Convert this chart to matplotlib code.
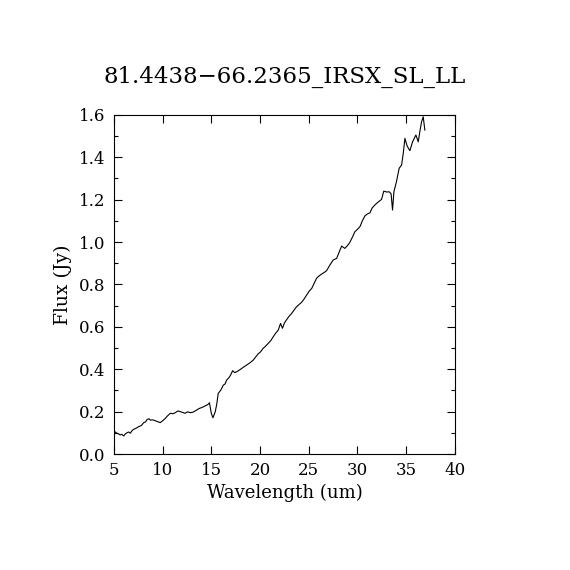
"""Recreate the IRS spectrum plot of 81.4438-66.2365 (SL+LL)."""

import matplotlib

matplotlib.use("Agg")
import matplotlib.pyplot as plt  # noqa: E402
from matplotlib.ticker import MultipleLocator  # noqa: E402

TITLE = "81.4438\u221266.2365_IRSX_SL_LL"

# wavelength (um) and flux (Jy)
wave = [5.0, 5.15, 5.3, 5.5, 5.65, 5.8, 6.0, 6.15, 6.33, 6.5, 6.67, 6.85,
        7.0, 7.25, 7.53, 7.8, 8.05, 8.25, 8.4, 8.6, 8.73, 9.0, 9.24, 9.5,
        9.75, 10.0, 10.27, 10.5, 10.78, 11.05, 11.3, 11.55, 11.8, 12.05,
        12.3, 12.55, 12.83, 13.1, 13.35, 13.55, 13.76, 14.0, 14.2, 14.4,
        14.55, 14.7, 14.8, 14.99, 15.16, 15.4, 15.55, 15.7, 15.95, 16.22,
        16.4, 16.57, 16.8, 16.98, 17.18, 17.4, 17.6, 17.8, 18.0, 18.3,
        18.62, 18.95, 19.3, 19.55, 19.8, 20.05, 20.3, 20.55, 20.84, 21.1,
        21.35, 21.6, 21.87, 22.1, 22.3, 22.5, 22.7, 22.95, 23.24, 23.5,
        23.75, 24.0, 24.27, 24.5, 24.78, 25.05, 25.3, 25.55, 25.8, 26.05,
        26.32, 26.6, 26.83, 27.15, 27.5, 27.86, 28.1, 28.37, 28.7, 28.95,
        29.2, 29.5, 29.74, 30.0, 30.25, 30.5, 30.76, 31.0, 31.28, 31.5,
        31.79, 32.05, 32.3, 32.47, 32.7, 33.0, 33.26, 33.45, 33.6, 33.74,
        34.0, 34.28, 34.53, 34.7, 34.87, 35.1, 35.38, 35.66, 36.0, 36.24,
        36.4, 36.58, 36.75, 36.92]
flux = [0.100, 0.104, 0.098, 0.094, 0.090, 0.093, 0.085, 0.094, 0.100,
        0.104, 0.098, 0.110, 0.116, 0.121, 0.129, 0.134, 0.148, 0.152,
        0.163, 0.166, 0.160, 0.161, 0.157, 0.153, 0.148, 0.157, 0.168,
        0.180, 0.192, 0.190, 0.195, 0.203, 0.200, 0.196, 0.192, 0.199,
        0.195, 0.197, 0.204, 0.210, 0.215, 0.219, 0.223, 0.228, 0.231,
        0.236, 0.242, 0.192, 0.171, 0.200, 0.235, 0.286, 0.300, 0.325,
        0.330, 0.349, 0.360, 0.373, 0.393, 0.384, 0.388, 0.394, 0.400,
        0.410, 0.420, 0.430, 0.443, 0.458, 0.472, 0.482, 0.498, 0.508,
        0.522, 0.535, 0.553, 0.570, 0.585, 0.616, 0.593, 0.618, 0.632,
        0.648, 0.663, 0.680, 0.695, 0.705, 0.716, 0.730, 0.750, 0.769,
        0.781, 0.805, 0.829, 0.840, 0.849, 0.857, 0.865, 0.890, 0.915,
        0.923, 0.950, 0.981, 0.970, 0.982, 0.997, 1.025, 1.049, 1.060,
        1.072, 1.100, 1.123, 1.132, 1.138, 1.160, 1.175, 1.186, 1.195,
        1.201, 1.240, 1.236, 1.237, 1.228, 1.151, 1.237, 1.284, 1.348,
        1.363, 1.418, 1.489, 1.453, 1.431, 1.473, 1.505, 1.473, 1.520,
        1.567, 1.591, 1.528]

plt.rcParams["font.family"] = "DejaVu Serif"


def main() -> None:
    fig = plt.figure(figsize=(5.7, 5.7), dpi=100)
    ax = fig.add_axes([0.2, 0.2035, 0.598, 0.595])

    ax.plot(wave, flux, color="black", lw=0.8)

    ax.set_xlim(5, 40)
    ax.set_ylim(0.0, 1.6)
    ax.xaxis.set_major_locator(MultipleLocator(5))
    ax.yaxis.set_major_locator(MultipleLocator(0.2))
    ax.yaxis.set_minor_locator(MultipleLocator(0.1))
    ax.yaxis.set_major_formatter(lambda v, _: f"{v:.1f}")
    ax.tick_params(which="both", direction="in", top=True, right=True,
                   labelsize=12, width=0.8)
    ax.tick_params(which="major", length=6, pad=6)
    ax.tick_params(which="minor", length=3)
    for sp in ax.spines.values():
        sp.set_linewidth(0.8)

    ax.set_xlabel("Wavelength (um)", fontsize=13, labelpad=3)
    ax.set_ylabel("Flux (Jy)", fontsize=13.5, labelpad=5)
    ax.set_title(TITLE, fontsize=16.5, pad=23)

    fig.savefig("out.png", dpi=100)


if __name__ == "__main__":
    main()
